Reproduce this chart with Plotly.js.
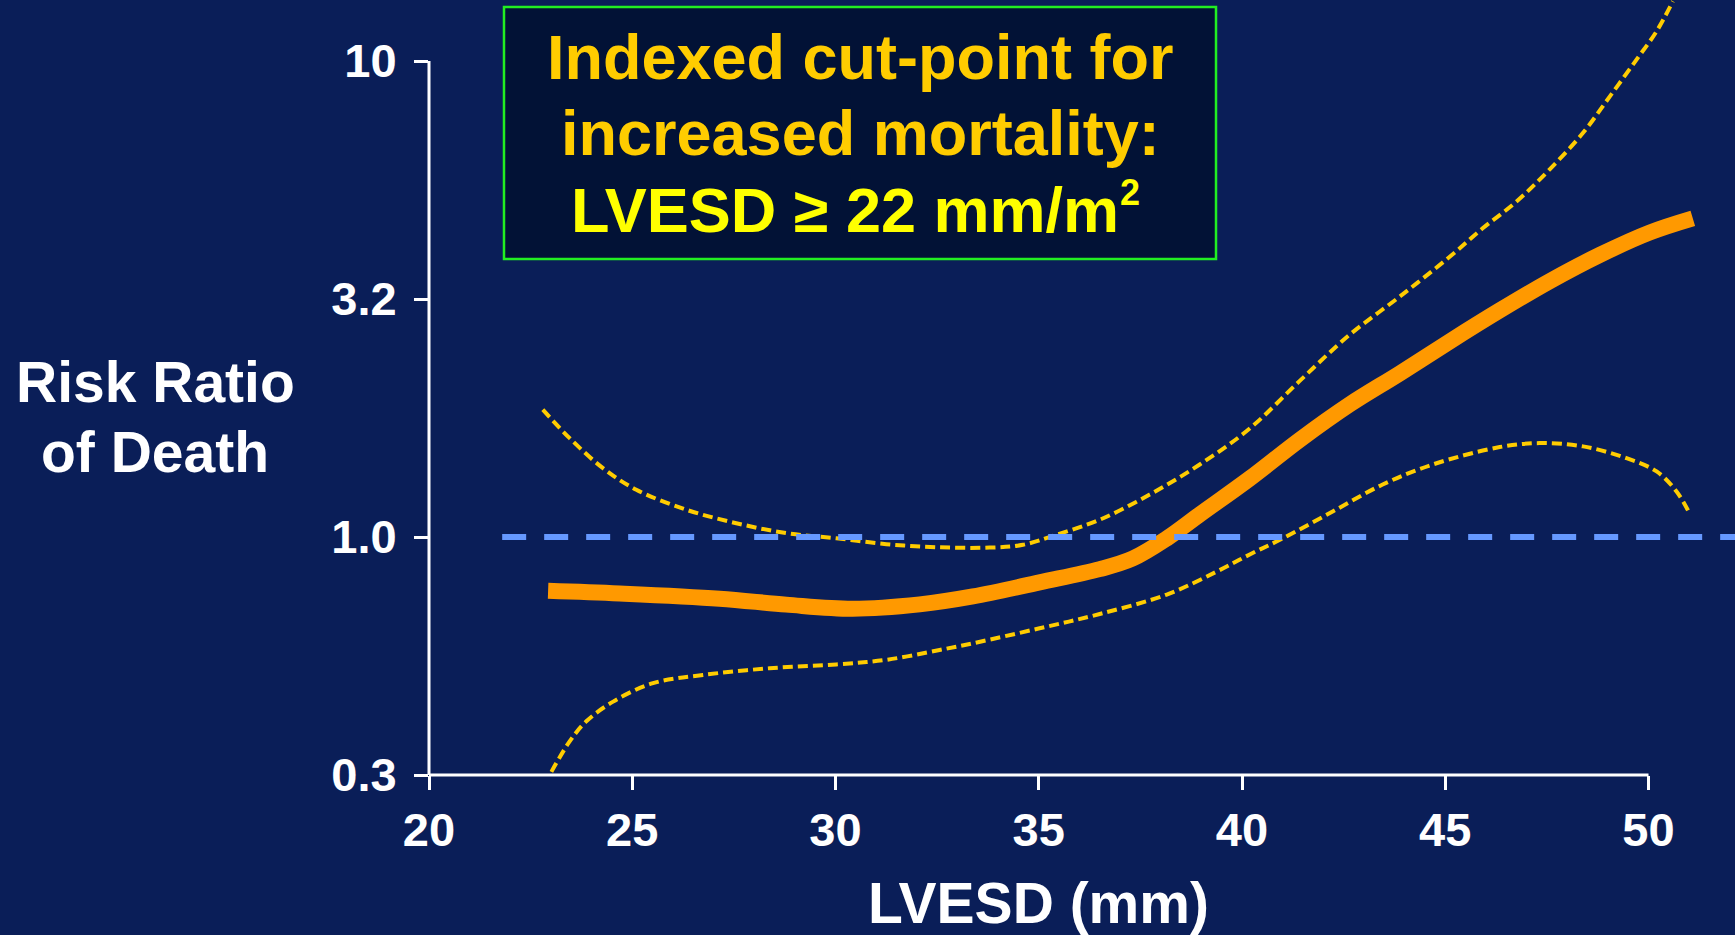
<!DOCTYPE html>
<html>
<head>
<meta charset="utf-8">
<script src="https://cdn.plot.ly/plotly-3.0.1.min.js"></script>
<style>
html,body{margin:0;padding:0;background:#0A1E58;}
#chart{width:1735px;height:935px;}
</style>
</head>
<body>
<div id="chart"></div>
<script>
// ---- data ----
const riskX = [22.93, 24.69, 27.15, 28.79, 30.42, 32.07, 33.38, 35.02, 36.50, 37.31, 38.15, 38.96, 40.19, 41.42, 42.65, 43.88, 45.11, 46.34, 47.58, 48.81, 50.04, 51.09];
const riskY = [0.771, 0.761, 0.742, 0.721, 0.707, 0.722, 0.750, 0.803, 0.856, 0.901, 0.993, 1.115, 1.327, 1.600, 1.899, 2.206, 2.576, 2.992, 3.451, 3.917, 4.365, 4.671];

const upperX = [22.80, 23.46, 24.28, 25.10, 26.33, 27.56, 28.79, 30.02, 31.25, 32.48, 33.79, 34.61, 35.43, 36.50, 37.73, 38.96, 40.19, 41.42, 42.65, 43.88, 45.11, 45.92, 46.76, 47.57, 48.38, 49.05, 49.71, 50.20, 50.60];
const upperY = [1.851, 1.613, 1.395, 1.257, 1.141, 1.069, 1.019, 0.994, 0.966, 0.952, 0.950, 0.963, 1.011, 1.087, 1.228, 1.420, 1.690, 2.128, 2.661, 3.199, 3.880, 4.451, 5.072, 5.922, 7.047, 8.428, 10.08, 11.55, 13.35];

const lowerX = [23.01, 23.46, 23.87, 24.53, 25.51, 26.74, 28.38, 30.02, 31.25, 32.56, 33.38, 35.02, 36.50, 38.15, 39.38, 40.19, 41.00, 42.23, 43.46, 44.69, 46.34, 47.32, 48.39, 49.46, 50.20, 50.69, 51.03];
const lowerY = [0.321, 0.372, 0.410, 0.451, 0.493, 0.513, 0.530, 0.540, 0.552, 0.579, 0.598, 0.643, 0.689, 0.757, 0.846, 0.919, 0.993, 1.131, 1.289, 1.420, 1.545, 1.575, 1.550, 1.464, 1.373, 1.246, 1.113];

const refX = [21.8, 52.2];
const refY = [1.0, 1.0];

const xTickVals = [20, 25, 30, 35, 40, 45, 50];
const xTickText = ['20', '25', '30', '35', '40', '45', '50'];
const yTickVals = [0.3162, 1.0, 3.162, 10];
const yTickText = ['0.3', '1.0', '3.2', '10'];

const xTitle = 'LVESD (mm)';
const yTitleLines = ['Risk Ratio', 'of Death'];
const boxLines = ['Indexed cut-point for', 'increased mortality:', 'LVESD \u2265 22 mm/m'];
const boxSup = '2';

// ---- style ----
const BG = '#0A1E58';
const FONT = '"Liberation Sans", Arial, Helvetica, sans-serif';
const W = 1735, H = 935;
const M = {l: 429, r: 0, t: 0, b: 160};
const plotW = W - M.l - M.r, plotH = H - M.t - M.b;
const px2x = p => (p - M.l) / plotW;         // pixel -> paper x
const px2y = p => (M.t + plotH - p) / plotH; // pixel -> paper y

const ciLine = {color: '#FFCC00', width: 4, dash: '10px,5px', shape: 'spline'};
const traces = [
  {x: upperX, y: upperY, mode: 'lines', line: ciLine, hoverinfo: 'skip'},
  {x: lowerX, y: lowerY, mode: 'lines', line: ciLine, hoverinfo: 'skip'},
  {x: riskX, y: riskY, mode: 'lines', line: {color: '#FF9900', width: 16, shape: 'spline'}, hoverinfo: 'skip'},
  {x: refX, y: refY, mode: 'lines', line: {color: '#6699FF', width: 6, dash: '24px,18px'}, hoverinfo: 'skip'}
];

const yTop = 1 + (61 / ((plotH - 61) / 1.5)); // log range top so that 10 sits at y=61px
const yAxisTopPaper = 1.5 / (yTop + 0.5);

const tickFont = {family: FONT, size: 47, color: '#FFFFFF', weight: 'bold'};
const ann = (text, x, y, size, color, xanchor) => ({
  text: text, xref: 'paper', yref: 'paper', x: px2x(x), y: px2y(y),
  xanchor: xanchor || 'center', yanchor: 'middle', showarrow: false,
  font: {family: FONT, size: size, color: color, weight: 'bold'}
});

const layout = {
  width: W, height: H,
  paper_bgcolor: BG, plot_bgcolor: BG,
  margin: {l: M.l, r: M.r, t: M.t, b: M.b, pad: 0},
  showlegend: false,
  xaxis: {
    range: [20, 20 + plotW / 40.65],
    tickmode: 'array', tickvals: xTickVals, ticktext: xTickText,
    ticks: 'outside', ticklen: 14, tickwidth: 3, tickcolor: '#FFFFFF',
    showline: false, showgrid: false, zeroline: false,
    tickfont: tickFont, ticklabelstandoff: 0, fixedrange: true
  },
  yaxis: {
    type: 'log', range: [-0.5, yTop],
    tickmode: 'array', tickvals: yTickVals, ticktext: yTickText,
    ticks: 'outside', ticklen: 14, tickwidth: 3, tickcolor: '#FFFFFF',
    showline: false, showgrid: false, zeroline: false,
    tickfont: tickFont, ticklabelstandoff: 8, fixedrange: true
  },
  shapes: [
    {type: 'line', xref: 'x', yref: 'paper', x0: xTickVals[0], x1: xTickVals[xTickVals.length - 1], y0: 0, y1: 0,
     line: {color: '#FFFFFF', width: 3}},
    {type: 'line', xref: 'paper', yref: 'paper', x0: 0, x1: 0, y0: 0, y1: yAxisTopPaper,
     line: {color: '#FFFFFF', width: 3}},
    {type: 'rect', xref: 'paper', yref: 'paper', x0: px2x(504), x1: px2x(1216), y0: px2y(259), y1: px2y(7),
     fillcolor: '#021236', line: {color: '#22EE22', width: 2.5}, layer: 'above'}
  ],
  annotations: [
    ann(boxLines[0], 860, 57, 63, '#FFCC00'),
    ann(boxLines[1], 860, 133, 63, '#FFCC00'),
    ann(boxLines[2], 1121, 210, 63, '#FFFF00', 'right'),
    ann(boxSup, 1118, 192, 36, '#FFFF00', 'left'),
    ann(yTitleLines[0], 155, 382, 57, '#FFFFFF'),
    ann(yTitleLines[1], 155, 452, 57, '#FFFFFF'),
    {text: xTitle, xref: 'x', yref: 'paper', x: 35, y: px2y(903), xanchor: 'center', yanchor: 'middle', showarrow: false,
     font: {family: FONT, size: 57, color: '#FFFFFF', weight: 'bold'}}
  ]
};

Plotly.newPlot('chart', traces, layout, {displayModeBar: false, staticPlot: true});
</script>
</body>
</html>
